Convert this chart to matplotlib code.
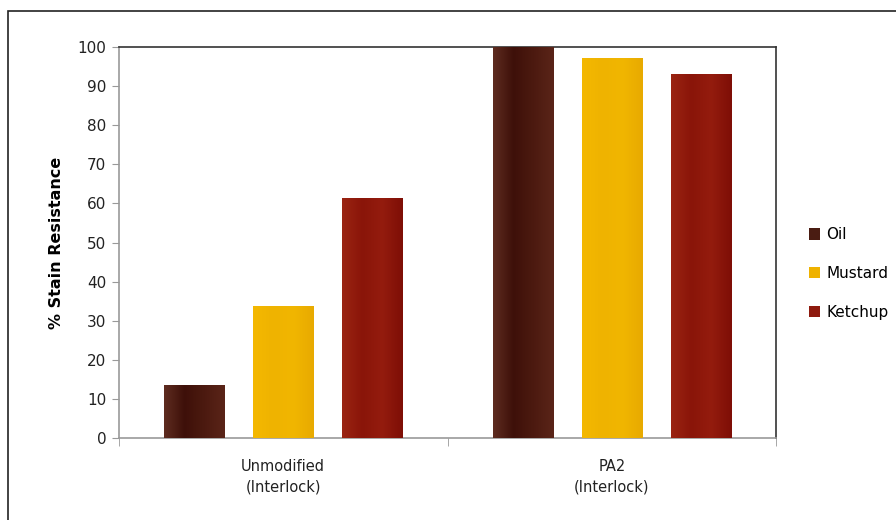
import numpy as np
import matplotlib
matplotlib.use("Agg")
import matplotlib.pyplot as plt
from matplotlib.colors import LinearSegmentedColormap
from matplotlib.patches import Rectangle, Patch

categories = ["Unmodified\n(Interlock)", "PA2\n(Interlock)"]
series = ["Oil", "Mustard", "Ketchup"]
oil = [13.6, 100]
mustard = [33.8, 97.2]
ketchup = [61.4, 93.1]
values = [oil, mustard, ketchup]

base = ["#4a1c12", "#efb200", "#8e1a0e"]
shades = [
    ["#5e2c20", "#3e1009", "#4c1a10", "#5a2418"],
    ["#f4b800", "#efb300", "#f1b600", "#e8aa00"],
    ["#9a2412", "#8a1509", "#941c0e", "#7e0e06"],
]

fig = plt.figure(figsize=(8.96, 5.2), dpi=100)
ax = fig.add_axes([0.1328, 0.1577, 0.7333, 0.7519])

# outer chart border
fig.patches.append(Rectangle((8 / 896, -0.1), 1.2, 1 - 11 / 520 + 0.1,
                             transform=fig.transFigure, fill=False,
                             edgecolor="#222222", lw=1.2))

x = np.arange(len(categories))
w = 0.183
offs = [-0.271, 0, 0.271]
for i, s in enumerate(series):
    bars = ax.bar(x + offs[i], values[i], w, color=base[i], label=s, zorder=2)
    cmap = LinearSegmentedColormap.from_list(s, shades[i])
    grad = np.linspace(0, 1, 64).reshape(1, -1)
    for b in bars:
        x0, y0 = b.get_x(), b.get_y()
        im = ax.imshow(grad, cmap=cmap, aspect="auto", zorder=3,
                       extent=[x0, x0 + b.get_width(), y0, y0 + b.get_height()])
        im.set_clip_path(b)

ax.set_xlim(-0.5, 1.5)
ax.set_ylim(0, 100)
ax.set_yticks(range(0, 101, 10))
ax.set_xticks(x)
ax.set_xticklabels(categories, fontsize=10.5, color="#222222", linespacing=1.45)
ax.set_xticks([-0.5, 0.5, 1.5], minor=True)
ax.tick_params(axis="x", which="major", length=0, pad=15)
ax.tick_params(axis="x", which="minor", length=6, color="#999999", direction="out")
ax.tick_params(axis="y", length=5, color="#999999", labelsize=11,
               labelcolor="#222222", pad=4)

for side in ["top", "right"]:
    ax.spines[side].set_color("#333333")
    ax.spines[side].set_linewidth(1.2)
for side in ["left", "bottom"]:
    ax.spines[side].set_color("#999999")
    ax.spines[side].set_linewidth(1.2)

ax.set_ylabel("% Stain Resistance", fontsize=11.5, fontweight="bold", labelpad=10)

handles = [Patch(facecolor=base[i], label=s) for i, s in enumerate(series)]
fig.legend(handles=handles, loc="center left", bbox_to_anchor=(0.887, 0.474),
           frameon=False, fontsize=11, handlelength=0.75, handleheight=0.75,
           handletextpad=0.4, labelspacing=1.55)

fig.savefig("out.png", dpi=100)
